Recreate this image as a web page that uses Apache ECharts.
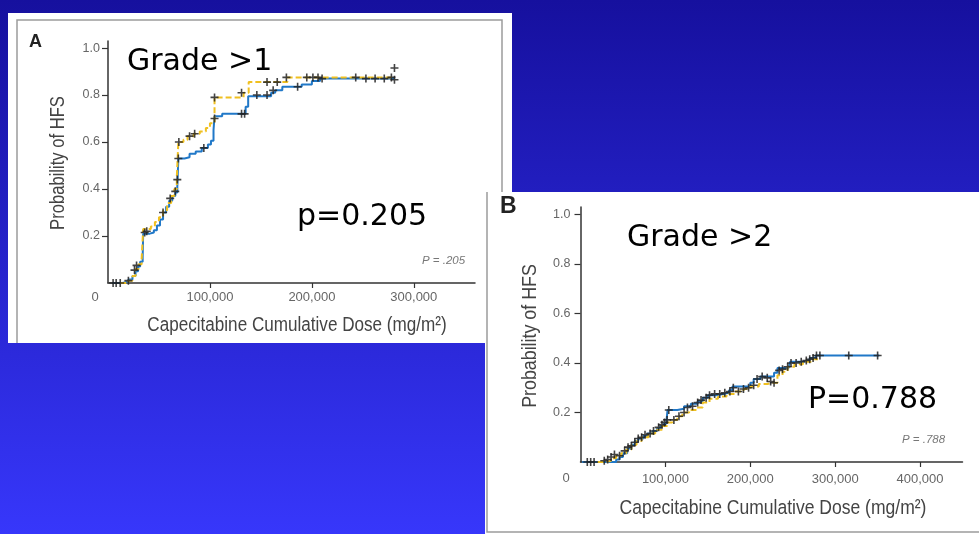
<!DOCTYPE html>
<html>
<head>
<meta charset="utf-8">
<script src="https://cdn.jsdelivr.net/npm/echarts@6/dist/echarts.min.js"></script>
<style>
  html, body { margin: 0; padding: 0; }
  #hfs { width: 979px; height: 534px; }
</style>
</head>
<body>
<div id="hfs"></div>
<script>
// Panel A (Grade >1): [dose, probability]
var gradeOneBlue = [
  [4000, 0], [14000, 0.005], [20000, 0.015], [24000, 0.03], [27000, 0.05], [29500, 0.07],
  [31500, 0.09], [34000, 0.11], [34500, 0.21], [41000, 0.215], [45000, 0.225], [48000, 0.245],
  [51000, 0.27], [54000, 0.3], [57000, 0.325], [60000, 0.35], [63000, 0.37], [66000, 0.385],
  [68000, 0.41], [69000, 0.53], [75000, 0.535], [80000, 0.55], [86000, 0.56], [92000, 0.575],
  [98000, 0.59], [101000, 0.605], [103500, 0.65], [104500, 0.71], [112000, 0.72], [133000, 0.72],
  [135000, 0.75], [137500, 0.795], [160000, 0.81], [164000, 0.82], [171000, 0.835], [186000, 0.835],
  [190000, 0.845], [200000, 0.86], [208000, 0.87], [281000, 0.87]
];
var gradeOneYellow = [
  [12000, 0], [20000, 0.01], [24000, 0.03], [27000, 0.06], [30000, 0.08], [33000, 0.1],
  [34500, 0.23], [42000, 0.24], [46000, 0.26], [50000, 0.28], [54000, 0.31], [58000, 0.34],
  [62000, 0.37], [65000, 0.4], [67500, 0.45], [69000, 0.6], [74000, 0.61], [78000, 0.625],
  [84000, 0.635], [90000, 0.645], [96000, 0.66], [100000, 0.68], [104500, 0.79], [128000, 0.79],
  [133000, 0.81], [138000, 0.855], [172000, 0.855], [176000, 0.875], [281000, 0.875]
];
var gradeOneCensor = [
  [5000, 0], [8000, 0], [12000, 0], [20000, 0.01], [26000, 0.055], [28000, 0.075], [36000, 0.215],
  [38000, 0.22], [54000, 0.3], [61000, 0.36], [66000, 0.39], [68000, 0.44], [69000, 0.53],
  [69500, 0.6], [80000, 0.625], [85000, 0.635], [94000, 0.575], [104500, 0.7], [104500, 0.79],
  [131000, 0.72], [134000, 0.72], [131000, 0.81], [146000, 0.8], [156000, 0.8], [162000, 0.82],
  [156000, 0.855], [166000, 0.855], [175000, 0.875], [186000, 0.835], [195000, 0.875],
  [201000, 0.875], [206000, 0.875], [210000, 0.87], [243000, 0.875], [253000, 0.87],
  [262000, 0.87], [271000, 0.87], [278000, 0.875], [281000, 0.865], [281000, 0.915]
];

// Panel B (Grade >2)
var gradeTwoBlue = [
  [2000, 0], [42000, 0.01], [46000, 0.02], [50000, 0.035], [55000, 0.055], [60000, 0.07],
  [64000, 0.085], [68000, 0.095], [74000, 0.105], [79000, 0.115], [85000, 0.125], [90000, 0.135],
  [94000, 0.145], [98000, 0.155], [101000, 0.16], [102500, 0.21], [114000, 0.215], [122000, 0.225],
  [130000, 0.235], [138000, 0.245], [144000, 0.26], [150000, 0.27], [160000, 0.275], [168000, 0.28],
  [175000, 0.29], [179000, 0.305], [196000, 0.305], [200000, 0.32], [204000, 0.335], [212000, 0.345],
  [225000, 0.345], [228000, 0.36], [232000, 0.38], [245000, 0.38], [247000, 0.405], [262000, 0.41],
  [270000, 0.42], [277000, 0.43], [352000, 0.43]
];
var gradeTwoYellow = [
  [20000, 0], [30000, 0.005], [36000, 0.015], [42000, 0.025], [48000, 0.035], [54000, 0.05],
  [60000, 0.07], [66000, 0.085], [72000, 0.1], [80000, 0.115], [88000, 0.13], [96000, 0.145],
  [102000, 0.16], [108000, 0.17], [114000, 0.185], [120000, 0.2], [128000, 0.21], [136000, 0.22],
  [144000, 0.24], [152000, 0.255], [162000, 0.265], [172000, 0.275], [182000, 0.285], [192000, 0.295],
  [200000, 0.305], [210000, 0.315], [220000, 0.32], [226000, 0.32], [232000, 0.35], [238000, 0.365],
  [244000, 0.385], [252000, 0.395], [262000, 0.405], [272000, 0.415], [280000, 0.425]
];
var gradeTwoCensor = [
  [8000, 0], [12000, 0], [16000, 0], [28000, 0.005], [32000, 0.01], [36000, 0.02], [40000, 0.03],
  [46000, 0.025], [52000, 0.045], [56000, 0.06], [60000, 0.065], [64000, 0.08], [68000, 0.095],
  [72000, 0.1], [76000, 0.11], [82000, 0.115], [86000, 0.125], [92000, 0.14], [96000, 0.15],
  [99000, 0.16], [102000, 0.17], [104000, 0.21], [110000, 0.17], [116000, 0.185], [122000, 0.2],
  [126000, 0.22], [132000, 0.225], [138000, 0.24], [142000, 0.25], [148000, 0.26], [152000, 0.27],
  [158000, 0.275], [164000, 0.275], [170000, 0.28], [176000, 0.285], [180000, 0.3], [186000, 0.285],
  [192000, 0.295], [198000, 0.3], [204000, 0.31], [208000, 0.335], [214000, 0.345], [220000, 0.34],
  [224000, 0.325], [228000, 0.32], [234000, 0.37], [238000, 0.375], [244000, 0.385], [248000, 0.4],
  [254000, 0.4], [260000, 0.405], [266000, 0.41], [270000, 0.415], [274000, 0.42], [278000, 0.43],
  [282000, 0.43], [316000, 0.43], [350000, 0.43]
];

var xTicksA = [100000, 200000, 300000];
var xTicksB = [100000, 200000, 300000, 400000];
var yTicks = [0.2, 0.4, 0.6, 0.8, 1.0];
var xName = 'Capecitabine Cumulative Dose (mg/m²)';
var yName = 'Probability of HFS';

var blue = '#2078c8';
var yellow = '#f0c020';
var plus = 'path://M4,0H6V4H10V6H6V10H4V6H0V4H4Z';
var axisFont = 'Liberation Sans, Arial, sans-serif';
var slideFont = 'DejaVu Sans, Verdana, sans-serif';

function thousands(v) {
  return String(v).replace(/\B(?=(\d{3})+(?!\d))/g, ',');
}

function xAxisFor(idx, max, ticks, margin) {
  return {
    gridIndex: idx, type: 'value', min: 0, max: max,
    axisLine: { lineStyle: { color: '#333', width: 1.5 } },
    axisTick: { customValues: ticks, length: 5, lineStyle: { color: '#333', width: 1.2 } },
    axisLabel: { customValues: ticks, formatter: thousands, color: '#666', fontSize: 13,
      fontFamily: axisFont, margin: margin },
    splitLine: { show: false }
  };
}

function yAxisFor(idx, margin) {
  return {
    gridIndex: idx, type: 'value', min: 0, max: 1.03,
    axisLine: { show: true, lineStyle: { color: '#333', width: 1.5 } },
    axisTick: { show: true, customValues: yTicks, length: 6, lineStyle: { color: '#333', width: 1.2 } },
    axisLabel: { customValues: yTicks, formatter: function (v) { return v.toFixed(1); },
      color: '#666', fontSize: 12.5, fontFamily: axisFont, margin: margin },
    splitLine: { show: false }
  };
}

function curves(idx, blueData, yellowData, censor) {
  return [
    { type: 'line', xAxisIndex: idx, yAxisIndex: idx, step: 'end', data: blueData,
      showSymbol: false, lineStyle: { color: blue, width: 2 }, z: 3 },
    { type: 'line', xAxisIndex: idx, yAxisIndex: idx, step: 'end', data: yellowData,
      showSymbol: false, lineStyle: { color: yellow, width: 2, type: [6, 3] }, z: 4 },
    { type: 'scatter', xAxisIndex: idx, yAxisIndex: idx, data: censor, symbol: plus,
      symbolSize: 8, itemStyle: { color: '#222', opacity: 0.85 }, z: 5 }
  ];
}

function label(text, x, y, size, extra) {
  var style = { text: text, x: x, y: y, fill: '#000', fontSize: size, fontFamily: slideFont,
    verticalAlign: 'middle' };
  for (var k in extra) style[k] = extra[k];
  return { type: 'text', z: 10, style: style };
}

// condensed axis title (the source uses a narrow face)
function axisTitle(text, x, y, size, squeeze, vertical) {
  return {
    type: 'text', z: 10, x: x, y: y, scaleX: squeeze, rotation: vertical ? Math.PI / 2 : 0,
    style: { text: text, fill: '#444', fontSize: size, fontFamily: axisFont,
      align: 'center', verticalAlign: 'middle' }
  };
}

var myChart = echarts.init(document.getElementById('hfs'));
option = {
  backgroundColor: {
    type: 'linear', x: 0, y: 0, x2: 0, y2: 1,
    colorStops: [{ offset: 0, color: '#16109e' }, { offset: 1, color: '#3737fb' }]
  },
  animation: false,
  grid: [
    { left: 108, top: 41, width: 367, height: 242 },
    { left: 580.5, top: 207, width: 382, height: 255 }
  ],
  xAxis: [xAxisFor(0, 360000, xTicksA, 8), xAxisFor(1, 450000, xTicksB, 11)],
  yAxis: [yAxisFor(0, 8), yAxisFor(1, 10)],
  graphic: [
    { type: 'rect', z: -10, shape: { x: 8, y: 13, width: 504, height: 330 }, style: { fill: '#fff' } },
    { type: 'polyline', z: -9, shape: { points: [[17, 343], [17, 20], [502, 20], [502, 343]] },
      style: { stroke: '#9c9c9c', lineWidth: 1.5, fill: null } },
    { type: 'rect', z: -8, shape: { x: 485, y: 192, width: 494, height: 342 }, style: { fill: '#fff' } },
    { type: 'polyline', z: -7, shape: { points: [[487, 192], [487, 532], [979, 532]] },
      style: { stroke: '#9c9c9c', lineWidth: 1.5, fill: null } },
    axisTitle(xName, 297, 325, 20, 0.855, false),
    axisTitle(yName, 58, 163, 20, 0.83, true),
    axisTitle(xName, 773, 508.5, 20.5, 0.855, false),
    axisTitle(yName, 530, 336, 20.5, 0.87, true),
    label('A', 29, 42, 18, { fontFamily: axisFont, fontWeight: 'bold', fill: '#222' }),
    label('B', 500, 207, 23, { fontFamily: axisFont, fontWeight: 'bold', fill: '#222' }),
    label('0', 95, 297, 13, { fontFamily: axisFont, fill: '#666', align: 'center' }),
    label('0', 566, 478, 13, { fontFamily: axisFont, fill: '#666', align: 'center' }),
    label('P = .205', 422, 261, 11.5, { fontFamily: axisFont, fontStyle: 'italic', fill: '#777' }),
    label('P = .788', 902, 440, 11.5, { fontFamily: axisFont, fontStyle: 'italic', fill: '#777' }),
    label('Grade >1', 127, 62, 30),
    label('p=0.205', 297, 217, 30),
    label('Grade >2', 627, 238, 30),
    label('P=0.788', 808, 400, 30)
  ],
  series: curves(0, gradeOneBlue, gradeOneYellow, gradeOneCensor)
    .concat(curves(1, gradeTwoBlue, gradeTwoYellow, gradeTwoCensor))
};
myChart.setOption(option);
</script>
</body>
</html>
